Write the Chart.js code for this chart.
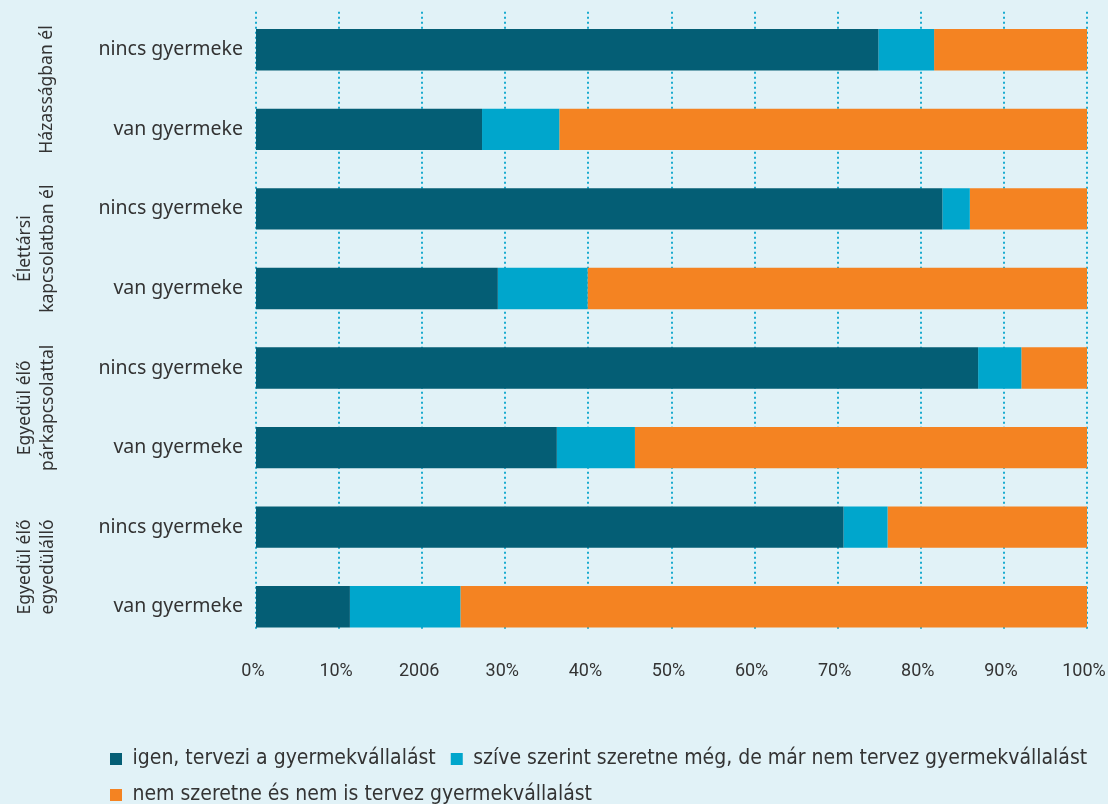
<!DOCTYPE html>
<html>
<head>
<meta charset="utf-8">
<script src="https://cdn.jsdelivr.net/npm/chart.js@4.4.0/dist/chart.umd.min.js"></script>
<style>
  html, body { margin: 0; padding: 0; background: #e1f2f7; }
  #wrap { width: 1108px; height: 804px; }
</style>
</head>
<body>
<div id="wrap"><canvas id="chart"></canvas></div>
<script>
const categories = ["nincs gyermeke", "van gyermeke", "nincs gyermeke", "van gyermeke",
                    "nincs gyermeke", "van gyermeke", "nincs gyermeke", "van gyermeke"];
const groups = [["Házasságban él"], ["Élettársi", "kapcsolatban él"],
                ["Egyedül élő", "párkapcsolattal"], ["Egyedül élő", "egyedülálló"]];
const seriesNames = ["igen, tervezi a gyermekvállalást",
                     "szíve szerint szeretne még, de már nem tervez gyermekvállalást",
                     "nem szeretne és nem is tervez gyermekvállalást"];
const igen = [74.9, 27.2, 82.6, 29.1, 86.9, 36.2, 70.7, 11.3];
const szive = [6.7, 9.3, 3.3, 10.8, 5.2, 9.4, 5.3, 13.3];
const nem = [18.4, 63.5, 14.1, 60.1, 7.9, 54.4, 24.0, 75.4];
const tickLabels = ["0%", "10%", "2006", "30%", "40%", "50%", "60%", "70%", "80%", "90%", "100%"];

const condensed = "'Liberation Sans Narrow', 'DejaVu Sans Condensed', sans-serif";
const textColor = "#333333";

// dotted vertical grid, drawn only over the bar band like the original
const dottedGrid = {
  id: "dottedGrid",
  beforeDatasetsDraw(chart) {
    const {ctx, scales: {x, y}} = chart;
    const top = y.getPixelForValue(0) - 38;
    const bottom = y.getPixelForValue(categories.length - 1) + 24;
    ctx.save();
    ctx.strokeStyle = "#19abcf";
    ctx.lineWidth = 2;
    ctx.setLineDash([2, 3]);
    for (let v = 0; v <= 100; v += 10) {
      const px = Math.round(x.getPixelForValue(v));
      ctx.beginPath();
      ctx.moveTo(px, top);
      ctx.lineTo(px, bottom);
      ctx.stroke();
    }
    ctx.restore();
  }
};

// rotated group labels on the left
const groupLabels = {
  id: "groupLabels",
  afterDraw(chart) {
    const {ctx, scales: {y}} = chart;
    ctx.save();
    ctx.fillStyle = textColor;
    ctx.font = "17.5px 'Noto Sans', sans-serif";
    ctx.textAlign = "center";
    ctx.textBaseline = "middle";
    groups.forEach((lines, i) => {
      const cy = (y.getPixelForValue(2 * i) + y.getPixelForValue(2 * i + 1)) / 2;
      const xs = lines.length === 1 ? [47] : [25, 48];
      lines.forEach((t, j) => {
        ctx.save();
        ctx.translate(xs[j], cy);
        ctx.rotate(-Math.PI / 2);
        ctx.fillText(t, 0, 0);
        ctx.restore();
      });
    });
    ctx.restore();
  }
};

new Chart(document.getElementById("chart"), {
  type: "bar",
  data: {
    labels: categories,
    datasets: [
      {label: seriesNames[0], data: igen, backgroundColor: "#045e75"},
      {label: seriesNames[1], data: szive, backgroundColor: "#00a6cc"},
      {label: seriesNames[2], data: nem, backgroundColor: "#f48322"}
    ]
  },
  options: {
    indexAxis: "y",
    responsive: true,
    maintainAspectRatio: false,
    animation: false,
    categoryPercentage: 1,
    barPercentage: 0.52,
    layout: {padding: {left: 95, right: 0, top: 10, bottom: -11.5}},
    scales: {
      x: {
        stacked: true,
        min: 0, max: 100,
        grid: {display: false, drawTicks: false},
        border: {display: false},
        ticks: {
          stepSize: 10,
          padding: 14,
          labelOffset: -3,
          color: textColor,
          font: {family: "Roboto, sans-serif", size: 18},
          callback: (v) => tickLabels[v / 10]
        },
        afterFit(scale) {
          scale.height = 87;
          scale.paddingLeft = 0;
          scale.paddingRight = 21;
        }
      },
      y: {
        stacked: true,
        grid: {display: false, drawTicks: false},
        border: {display: false},
        ticks: {
          padding: 13,
          color: textColor,
          font: {family: "'Noto Sans', sans-serif", size: 19.5}
        },
        afterFit(scale) {
          scale.width = 161;
          scale.paddingTop = 0;
          scale.paddingBottom = 0;
        }
      }
    },
    plugins: {
      legend: {
        position: "bottom",
        align: "start",
        labels: {
          boxWidth: 12,
          boxHeight: 12,
          padding: 15,
          color: textColor,
          font: {family: condensed, size: 21}
        }
      },
      tooltip: {enabled: false}
    }
  },
  plugins: [dottedGrid, groupLabels]
});
</script>
</body>
</html>
